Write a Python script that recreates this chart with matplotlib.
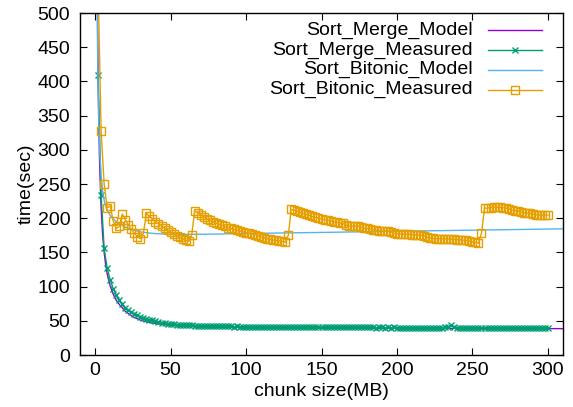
import numpy as np
import matplotlib
matplotlib.use("Agg")
import matplotlib.pyplot as plt
from matplotlib.lines import Line2D

plt.rcParams['font.family'] = ['Liberation Sans', 'DejaVu Sans']

# ---- data ----
# measured series, one point every 2 MB from 2 to 300
merge_measured = [
    410, 234, 156, 127, 110, 97, 88, 80, 75, 69,
    66, 63, 60, 58, 56, 54.5, 53, 51.5, 50.5, 49.5,
    48.5, 47.5, 47, 46, 45.5, 45, 44.5, 44.5, 44, 44,
    43.5, 43.5, 43, 43, 43, 42.5, 42.5, 42.5, 42.5, 42,
    42, 42, 42, 42, 42, 41.5, 42, 41.5, 41.5, 41.5,
    41.5, 41.5, 41, 41.5, 41, 41, 41.5, 41, 41, 41,
    41, 41, 41, 41, 41, 40.5, 41, 41, 40.5, 41,
    41, 40.5, 40.5, 41, 40.5, 40.5, 40.5, 41, 40.5, 40.5,
    40.5, 40.5, 40.5, 40.5, 40.5, 40.5, 40.5, 40.5, 40.5, 40.5,
    40.5, 40.5, 40, 40.5, 40.5, 40, 40.5, 40, 40.5, 40,
    40, 40, 40, 40, 40, 40, 40, 40, 40, 40,
    40, 40, 40, 40, 40, 40.5, 41, 44.5, 40.5, 40,
    40, 40, 40, 40, 40, 40, 40, 40, 40, 40,
    40, 40, 40, 39.5, 40, 40, 40, 39.5, 40, 40,
    40, 40, 40, 40, 40, 39.5, 40, 40, 40, 40,
]

bitonic_measured = [
    540, 327, 250, 215, 218, 196, 185, 188, 206, 198,
    190, 184, 178, 173, 170, 178, 207, 203, 199, 195,
    192, 189, 185.5, 182.5, 179.5, 177, 174.5, 172, 170, 168,
    166, 175, 211, 208, 205, 202, 199, 197, 195, 193,
    191, 190, 188, 186, 185, 183.5, 182.5, 181, 180, 179,
    178, 177, 176, 174.5, 173, 171.5, 170, 169, 168, 167.5,
    167, 166, 165, 175, 213, 211.5, 210, 208.5, 207, 205.5,
    204, 202.5, 201.3, 200, 199, 198, 197, 196, 195, 194,
    193, 192.5, 190, 188.6, 188.5, 188.5, 188.5, 187, 185.5, 185,
    184, 183, 182.7, 182, 181.5, 181.3, 181.3, 180, 178, 177.5,
    177, 176.5, 176.5, 176.4, 176, 175.5, 175.4, 175, 174, 172,
    171, 170.5, 170, 170, 170, 169.8, 169.6, 169.4, 169, 168.5,
    168.3, 168, 167.5, 166.5, 165.5, 164.5, 163.5, 178, 214.5, 215,
    215.5, 216, 216, 216, 215.5, 215, 214, 212, 211, 210.5,
    209.5, 208, 207.5, 207, 206, 205, 204.5, 204.5, 204.5, 204.5,
]

measured_x = np.arange(2, 2 * len(merge_measured) + 1, 2)

# model curves
merge_model_x = [1.6, 2, 2.5, 3, 4, 5, 6, 7, 8, 10, 12, 14, 16, 20, 25, 30,
                 35, 40, 50, 60, 80, 100, 150, 200, 250, 300, 310]
merge_model_y = [500, 405, 330, 280, 215, 175, 150, 132, 119, 101, 89, 80, 74,
                 64, 56, 51, 48, 46, 43.5, 42, 40.5, 40, 39.3, 39, 38.8, 38.6, 38.5]

bitonic_model_x = [1.4, 1.6, 2, 2.5, 3, 4, 5, 6, 7, 8, 10, 12, 14, 16, 20, 25,
                   30, 35, 40, 50, 60, 80, 100, 150, 200, 250, 300, 310]
bitonic_model_y = [500, 450, 390, 335, 300, 262, 240, 226, 218, 212, 204, 199,
                   195, 192, 187, 183, 180, 178.5, 177.5, 176.5, 176.3, 176.8,
                   177.7, 179.2, 180.9, 182.5, 184.1, 184.4]

labels = ['Sort_Merge_Model', 'Sort_Merge_Measured',
          'Sort_Bitonic_Model', 'Sort_Bitonic_Measured']
colors = ['#9400d3', '#009e73', '#56b4e9', '#e69f00']
markers = [None, 'x', None, 's']

fig = plt.figure(figsize=(5.73, 4.07), dpi=100)
ax = fig.add_axes([80 / 573, 1 - 355 / 407, 483 / 573, 342 / 407])

ax.plot(merge_model_x, merge_model_y, color=colors[0], lw=1.0)
ax.plot(measured_x, merge_measured, color=colors[1], lw=1.0,
        marker='x', ms=4.5, mew=1.0)
ax.plot(bitonic_model_x, bitonic_model_y, color=colors[2], lw=1.0)
ax.plot(measured_x, bitonic_measured, color=colors[3], lw=1.0,
        marker='s', ms=5.5, mfc='none', mew=1.0)

ax.set_xlim(-10, 310)
ax.set_ylim(0, 500)
ax.set_xticks(range(0, 301, 50))
ax.set_yticks(range(0, 501, 50))
ax.tick_params(direction='in', length=5, width=0.8, top=True, right=True,
               labelsize=14, colors='black')
ax.tick_params(axis='x', pad=5)
ax.tick_params(axis='y', pad=7)
for s in ax.spines.values():
    s.set_linewidth(1.0)

ax.set_xlabel('chunk size(MB)', fontsize=14, labelpad=3)
ax.set_ylabel('time(sec)', fontsize=14, labelpad=2)

# gnuplot-style key: right aligned text, sample on the right
rows = [0.950, 0.892, 0.834, 0.776]
for lab, c, m, yy in zip(labels, colors, markers, rows):
    ax.text(0.813, yy, lab, transform=ax.transAxes, ha='right', va='center',
            fontsize=14)
    ax.add_line(Line2D([0.845, 0.956], [yy, yy], transform=ax.transAxes,
                       color=c, lw=1.0))
    if m is not None:
        ax.add_line(Line2D([0.9], [yy], transform=ax.transAxes, color=c,
                           marker=m, ms=5.5 if m == 's' else 4.5,
                           mfc='none', mew=1.0, lw=0))

fig.savefig('out.png', dpi=100)
